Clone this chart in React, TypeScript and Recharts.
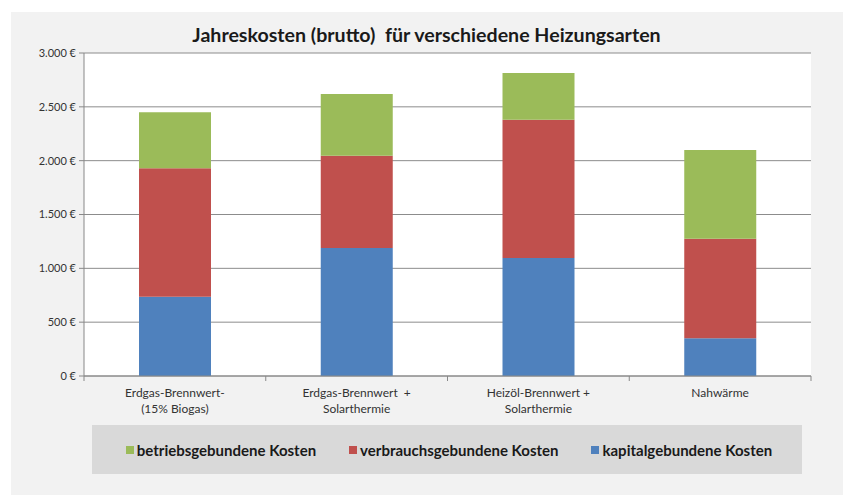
import React from "react";
import { BarChart, Bar, XAxis, YAxis, CartesianGrid, Legend } from "recharts";

const categories = [
  "Erdgas-Brennwert-\n(15% Biogas)",
  "Erdgas-Brennwert  +\nSolarthermie",
  "Heizöl-Brennwert +\nSolarthermie",
  "Nahwärme",
];
const kapital = [735, 1190, 1095, 350];
const verbrauch = [1195, 855, 1285, 925];
const betrieb = [520, 575, 435, 825];
const yTicks = [0, 500, 1000, 1500, 2000, 2500, 3000];

const seriesInfo = [
  { key: "betrieb", name: "betriebsgebundene Kosten", color: "#9bbb59" },
  { key: "verbrauch", name: "verbrauchsgebundene Kosten", color: "#c0504d" },
  { key: "kapital", name: "kapitalgebundene Kosten", color: "#4f81bd" },
];

const data = categories.map((c, i) => ({
  cat: c,
  kapital: kapital[i],
  verbrauch: verbrauch[i],
  betrieb: betrieb[i],
}));

const FONT = "Lato, 'Open Sans', sans-serif";
const W = 843;
const H = 495;
const M_LEFT = 10;
const Y_W = 74;
const M_RIGHT = 32;
const PLOT_W = W - M_LEFT - Y_W - M_RIGHT;
const BAND = PLOT_W / categories.length;

const fmtEuro = (v: number) =>
  String(v).replace(/\B(?=(\d{3})+(?!\d))/g, ".") + " €";

const XTick = (props: any) => {
  const { x, y, payload, index } = props;
  const lines = String(payload.value).split("\n");
  const isLast = index === categories.length - 1;
  return (
    <g>
      <line x1={x - BAND / 2} y1={y} x2={x - BAND / 2} y2={y + 5} stroke="#888" />
      {isLast && (
        <line x1={x + BAND / 2} y1={y} x2={x + BAND / 2} y2={y + 5} stroke="#888" />
      )}
      <text x={x} y={y} textAnchor="middle" fontSize={12} fill="#333" fontFamily={FONT}>
        {lines.map((l, i) => (
          <tspan key={i} x={x} dy={i === 0 ? 21 : 16} style={{ whiteSpace: "pre" }}>
            {l}
          </tspan>
        ))}
      </text>
    </g>
  );
};

const LegendContent = () => (
  <div
    style={{
      width: "100%",
      height: "100%",
      background: "#d9d9d9",
      display: "flex",
      alignItems: "center",
      justifyContent: "center",
      gap: 33,
      fontFamily: FONT,
      fontWeight: 700,
      fontSize: 15,
      color: "#1a1a1a",
      boxSizing: "border-box",
      paddingLeft: 4,
    }}
  >
    {seriesInfo.map((s) => (
      <div key={s.key} style={{ display: "flex", alignItems: "center" }}>
        <span
          style={{
            display: "inline-block",
            width: 8,
            height: 8,
            background: s.color,
            marginRight: 3,
          }}
        />
        <span>{s.name}</span>
      </div>
    ))}
  </div>
);

export default function App() {
  return (
    <div
      style={{
        position: "absolute",
        left: 0,
        top: 0,
        width: W,
        height: H,
        background: "#ffffff",
        overflow: "hidden",
      }}
    >
      <div
        style={{
          position: "absolute",
          left: 11,
          top: 12,
          width: 832,
          height: 483,
          background: "#f2f2f2",
        }}
      />
      <div
        style={{
          position: "absolute",
          left: 0,
          top: 24,
          width: 853,
          textAlign: "center",
          fontFamily: FONT,
          fontWeight: 700,
          fontSize: 19.6,
          color: "#1a1a1a",
          lineHeight: "22px",
          whiteSpace: "pre",
        }}
      >
        {"Jahreskosten (brutto)  für verschiedene Heizungsarten"}
      </div>
      <div style={{ position: "absolute", left: 0, top: 0 }}>
        <BarChart
          width={W}
          height={H}
          data={data}
          margin={{ top: 53, right: M_RIGHT, left: M_LEFT, bottom: 74 }}
          barSize={72}
        >
          <CartesianGrid vertical={false} stroke="#8c8c8c" fill="#ffffff" />
          <XAxis
            dataKey="cat"
            height={45}
            tickLine={false}
            tickSize={0}
            tickMargin={0}
            axisLine={{ stroke: "#888" }}
            tick={<XTick />}
            interval={0}
          />
          <YAxis
            width={Y_W}
            domain={[0, 3000]}
            ticks={yTicks}
            tickFormatter={fmtEuro}
            axisLine={{ stroke: "#888" }}
            tickLine={{ stroke: "#888" }}
            tickSize={5}
            tickMargin={3}
            tick={{ fontSize: 11, fill: "#333", fontFamily: FONT }}
            interval={0}
          />
          <Legend
            layout="vertical"
            align="center"
            verticalAlign="middle"
            content={<LegendContent />}
            wrapperStyle={{ left: 92, top: 425, width: 710, height: 49 }}
          />
          <Bar dataKey="kapital" name="kapitalgebundene Kosten" stackId="a" fill="#4f81bd" isAnimationActive={false} />
          <Bar dataKey="verbrauch" name="verbrauchsgebundene Kosten" stackId="a" fill="#c0504d" isAnimationActive={false} />
          <Bar dataKey="betrieb" name="betriebsgebundene Kosten" stackId="a" fill="#9bbb59" isAnimationActive={false} />
        </BarChart>
      </div>
    </div>
  );
}
